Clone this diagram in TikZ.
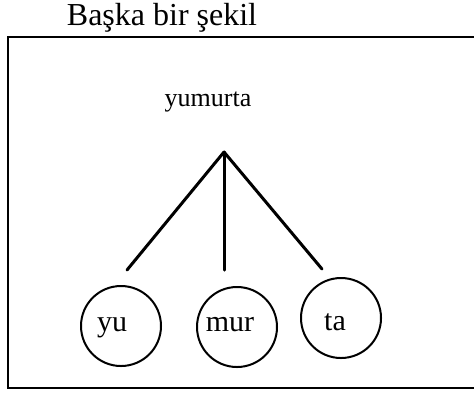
\documentclass[tikz,border=0pt]{standalone}
\usepackage{fontspec}
\setmainfont{Liberation Serif}
\begin{document}
\begin{tikzpicture}[x=0.5pt,y=-0.5pt,
frame/.style={line width=1pt},
branch/.style={line width=1.5pt,line cap=round},
syllable/.style={draw,circle,line width=1pt,minimum size=40pt,inner sep=0pt},
syllableText/.style={anchor=base,inner sep=0pt,font=\fontsize{15}{18}\selectfont},
word/.style={font=\fontsize{13}{16}\selectfont}
]
\useasboundingbox (0,0) rectangle (474,392);
\node[font=\fontsize{16}{19}\selectfont,anchor=base] (title) at (162,25) {Başka bir şekil};
\draw[frame] (480,37) -| (8,388) -- (480,388);

\node[word,anchor=base] (root) at (208,106) {yumurta};
\coordinate (apex) at (224,152);
\coordinate (endYu) at (127,270);
\coordinate (endMur) at (224,270);
\coordinate (endTa) at (322,269);

\node[syllable] (yu) at (121,326) {};
\node[syllable] (mur) at (237,327) {};
\node[syllable] (ta) at (341,318) {};
\node[syllableText] (yuText) at (112,331) {yu};
\node[syllableText] (murText) at (230,331) {mur};
\node[syllableText] (taText) at (335,330) {ta};

\foreach \e in {endYu,endMur,endTa}
  \draw[branch] (apex) -- (\e);
\end{tikzpicture}
\end{document}
